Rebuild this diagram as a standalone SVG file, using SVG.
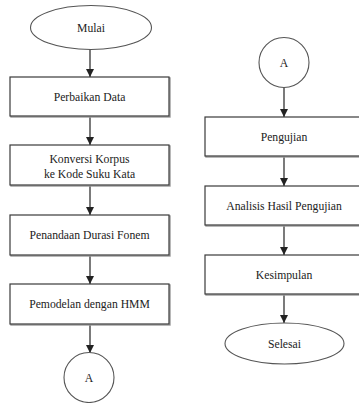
<svg xmlns="http://www.w3.org/2000/svg" width="359" height="403" viewBox="0 0 359 403">
<defs>
<style>
.shadow{fill:none;stroke:#9a9a9a;stroke-width:1.4}
.box{fill:#fff;stroke:#3a3a3a;stroke-width:1.2}
.term{fill:#fff;stroke:#555;stroke-width:1.1}
.t{font-family:"Liberation Serif","Times New Roman",serif;font-size:11.7px;fill:#222;text-anchor:middle}
.c{stroke:#333;stroke-width:1.3;fill:none;marker-end:url(#ah)}
</style>
<marker id="ah" viewBox="0 0 10 10" refX="10" refY="5" markerWidth="8" markerHeight="8" markerUnits="userSpaceOnUse" orient="auto">
<path d="M0,0 L10,5 L0,10 z" fill="#222"/>
</marker>
</defs>
<rect width="359" height="403" fill="#fff"/>
<g id="connectors">
<line class="c" x1="90" y1="49" x2="90" y2="77"/>
<line class="c" x1="90" y1="117" x2="90" y2="145"/>
<line class="c" x1="90" y1="186" x2="90" y2="215"/>
<line class="c" x1="90" y1="256" x2="90" y2="284"/>
<line class="c" x1="90" y1="325" x2="90" y2="353"/>
<line class="c" x1="284" y1="87" x2="284" y2="117"/>
<line class="c" x1="284" y1="157" x2="284" y2="186"/>
<line class="c" x1="284" y1="226" x2="284" y2="255"/>
<line class="c" x1="284" y1="295" x2="284" y2="323"/>
</g>
<g id="mulai">
<ellipse class="term" cx="91" cy="27.5" rx="60.5" ry="22"/>
<text class="t" x="91" y="31.5">Mulai</text>
</g>
<g id="perbaikan">
<rect class="shadow" x="11" y="78" width="159" height="39"/>
<rect class="box" x="10" y="77" width="159" height="39"/>
<text class="t" x="89.5" y="100.5">Perbaikan Data</text>
</g>
<g id="konversi">
<rect class="shadow" x="11" y="146" width="159" height="40"/>
<rect class="box" x="10" y="145" width="159" height="40"/>
<text class="t" x="89.5" y="162.5">Konversi Korpus</text>
<text class="t" x="89.5" y="178">ke Kode Suku Kata</text>
</g>
<g id="penandaan">
<rect class="shadow" x="11" y="216" width="159" height="40"/>
<rect class="box" x="10" y="215" width="159" height="40"/>
<text class="t" x="89.5" y="239">Penandaan Durasi Fonem</text>
</g>
<g id="pemodelan">
<rect class="shadow" x="11" y="285" width="159" height="40"/>
<rect class="box" x="10" y="284" width="159" height="40"/>
<text class="t" x="89.5" y="308">Pemodelan dengan HMM</text>
</g>
<g id="a-left">
<circle class="term" cx="89" cy="377.5" r="25"/>
<text class="t" x="89" y="381.5">A</text>
</g>
<g id="a-right">
<circle class="term" cx="284" cy="62.5" r="25"/>
<text class="t" x="284" y="66.5">A</text>
</g>
<g id="pengujian">
<rect class="shadow" x="206" y="118" width="158" height="39"/>
<rect class="box" x="205" y="117" width="158" height="39"/>
<text class="t" x="284" y="140.5">Pengujian</text>
</g>
<g id="analisis">
<rect class="shadow" x="206" y="187" width="158" height="39"/>
<rect class="box" x="205" y="186" width="158" height="39"/>
<text class="t" x="284" y="209.5">Analisis Hasil Pengujian</text>
</g>
<g id="kesimpulan">
<rect class="shadow" x="206" y="256" width="158" height="39"/>
<rect class="box" x="205" y="255" width="158" height="39"/>
<text class="t" x="284" y="278.5">Kesimpulan</text>
</g>
<g id="selesai">
<ellipse class="term" cx="284.5" cy="343.5" rx="59.5" ry="20.5"/>
<text class="t" x="284.5" y="347.5">Selesai</text>
</g>
</svg>
